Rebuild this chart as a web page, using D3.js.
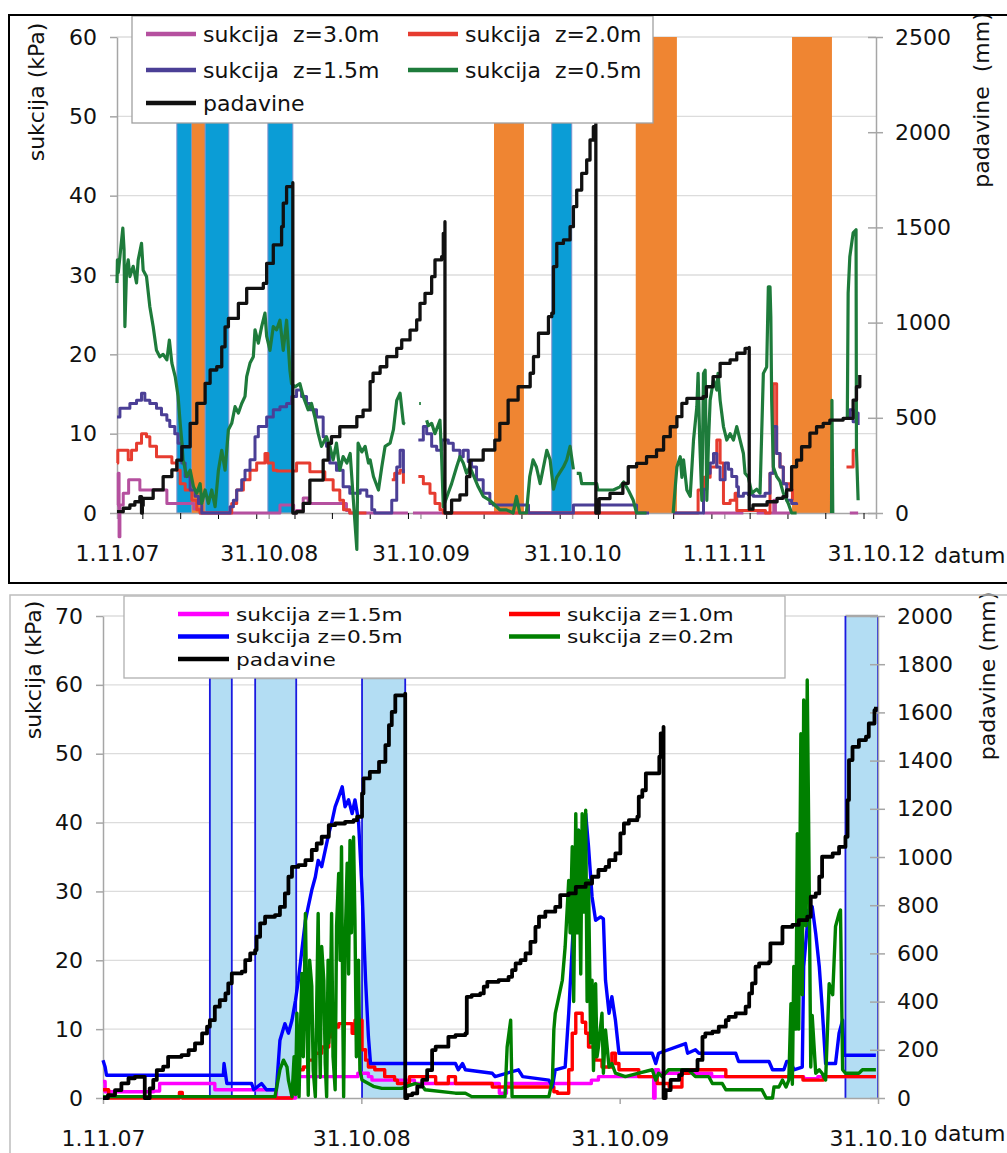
<!DOCTYPE html>
<html>
<head>
<meta charset="utf-8">
<script src="https://cdn.jsdelivr.net/npm/d3@7"></script>
<style>
  body { margin: 0; background: #fff; }
  text { font-family: "DejaVu Sans", sans-serif; fill: #111; }
</style>
</head>
<body>
<svg id="chart" width="1007" height="1153"></svg>
<script>
// all x values are days counted from 1.11.2007
const start = new Date(2007, 10, 1);
const day = d => d3.timeDay.offset(start, d);

// ---------- top chart (2007 - 2012) ----------
const topTickDays = [0, 365, 730, 1095, 1461, 1826];
const topTickLabels = ["1.11.07", "31.10.08", "31.10.09", "31.10.10", "1.11.11", "31.10.12"];
// [from, to, kind]  b = blue column, o = orange column
const topBands = [[144, 180, "b"], [180, 212, "o"], [212, 269, "b"], [363, 423, "b"],
  [907, 979, "o"], [1046, 1094, "b"], [1248, 1347, "o"], [1624, 1720, "o"]];

const topRain = [[0,7],[15,25],[31,42],[43,59],[55,86],[59,86],[59,0],[61,40],[63,77],[87,121],[111,191],[132,226],[144,278],[156,348],[176,471],[192,576],[212,681],[224,751],[240,768],[252,873],[260,978],[268,1022],[292,1101],[312,1180],[352,1206],[360,1311],[376,1408],[396,1504],[400,1627],[408,1714],[423,1735],[423,0],[432,7],[448,51],[464,173],[496,278],[508,366],[516,401],[536,453],[577,506],[592,540],[609,690],[616,734],[633,768],[649,821],[673,865],[685,909],[705,961],[721,1014],[729,1101],[741,1154],[757,1241],[765,1329],[781,1346],[785,1469],[789,1530],[789,0],[805,68],[825,95],[841,191],[849,278],[881,331],[909,383],[921,471],[941,593],[965,663],[994,734],[1002,821],[1014,944],[1038,1031],[1046,1049],[1050,1294],[1058,1416],[1074,1434],[1090,1504],[1098,1609],[1106,1696],[1118,1784],[1130,1854],[1138,1959],[1146,2029],[1152,2050],[1152,0],[1160,76],[1186,103],[1217,156],[1230,243],[1250,261],[1274,296],[1298,331],[1315,401],[1331,453],[1347,506],[1359,576],[1371,602],[1410,611],[1418,663],[1434,716],[1451,786],[1475,804],[1491,839],[1511,865],[1521,870],[1521,20],[1530,42],[1564,59],[1588,77],[1602,86],[1611,121],[1623,243],[1635,278],[1647,348],[1667,419],[1683,453],[1699,471],[1715,488],[1747,497],[1759,497],[1771,593],[1779,663],[1787,725]];

const topZ30 = [[0,1],[3,5],[5,-3],[7,1],[15,2.5],[28,4.2],[47,4.2],[55,2.9],[115,2.9],[120,1.2],[165,1.2],[185,0.5],[200,0],[385,0],[392,1],[420,1],[425,0],[432,0.3],[448,1.9],[460,1.2],[540,1.2],[552,0.3],[560,0],[700,0],[705,null],[712,0],[1250,0],[1255,null],[1410,0],[1507,0],[1510,null],[1539,0],[1580,1.6],[1584,0],[1619,0],[1622,null],[1763,0],[1783,0]];

const topZ20 = [[0,6.3],[2,7.9],[15,7.9],[27,6.7],[35,7.9],[47,8.8],[59,10],[71,9.6],[79,8.4],[95,7.1],[127,7.1],[132,6.3],[144,5.4],[152,3.7],[164,2.9],[180,1.6],[192,0.4],[200,0],[269,0],[276,1.2],[288,2.9],[304,4.2],[320,5.4],[336,6.3],[356,7.5],[363,6.3],[376,5.4],[385,5.3],[416,5.3],[432,6.3],[448,6.3],[464,5.2],[480,5.2],[500,4.2],[520,2.9],[536,1.6],[545,0.4],[560,0],[600,0],[601,null],[661,4.2],[668,5.0],[681,5.4],[689,3.7],[693,null],[725,4.6],[737,3.7],[753,2.5],[765,1.2],[777,0.4],[785,0],[1250,0],[1251,null],[1338,0],[1390,0],[1398,2.9],[1411,4.5],[1427,5.8],[1443,9.2],[1451,6.3],[1459,1.2],[1475,1.6],[1487,2.5],[1491,0.3],[1560,0],[1571,5],[1579,16.3],[1587,7.5],[1595,5.8],[1603,3.7],[1619,2.9],[1625,1.6],[1630,null],[1755,5.8],[1763,5.8],[1771,7.9],[1779,8.2],[1783,null]];

const topZ15 = [[0,12.1],[7,13.2],[31,13.8],[47,14.2],[59,15.1],[67,14.2],[79,13.8],[95,13.2],[107,12.4],[120,11.7],[127,10.9],[139,10.0],[147,8.8],[156,6.3],[164,4.6],[176,2.9],[188,2.1],[196,1.2],[204,0],[270,0],[272,0.8],[280,1.6],[288,2.9],[300,4.2],[308,5.4],[320,6.7],[332,9.6],[340,10.9],[360,12.1],[376,13.0],[392,13.4],[408,13.8],[420,14.7],[432,15.5],[444,14.7],[456,13.8],[464,13.0],[480,12.1],[496,9.6],[504,8.4],[512,6.3],[528,5.4],[544,3.3],[560,2.5],[585,2.9],[601,2.1],[613,0.4],[620,0],[655,0],[661,1.6],[673,5.8],[681,7.9],[689,5],[693,null],[725,9.2],[737,10.9],[745,10.0],[757,8.4],[769,7.9],[781,9.2],[797,8.8],[809,7.9],[825,7.1],[833,7.9],[845,6.5],[853,5.8],[865,4.2],[881,2.5],[897,1.2],[905,1.0],[985,1.0],[990,0],[1046,0],[1098,1.0],[1245,1.0],[1250,0],[1280,0],[1281,null],[1338,0],[1400,0],[1411,3],[1419,5],[1427,6.3],[1435,7.5],[1443,5.8],[1451,4.2],[1463,6.3],[1471,5.5],[1479,4.6],[1491,3.3],[1495,2.1],[1507,2.5],[1519,2.3],[1531,2.1],[1559,2.5],[1571,5.0],[1579,10.9],[1587,7.5],[1595,5.8],[1603,3.7],[1611,1.6],[1623,1.2],[1635,1.0],[1640,null],[1755,12.1],[1763,13.0],[1771,11.5],[1779,12.6],[1783,11.1]];

const topZ05 = [[0,29.0],[1,31.9],[3,30.3],[7,32.3],[14,35.9],[17,33.2],[19,23.5],[23,30.6],[27,31.9],[31,29.8],[39,31.1],[47,29.0],[51,31.9],[59,34.0],[63,30.6],[71,29.8],[79,26.0],[87,23.5],[95,20.5],[103,19.7],[111,20.0],[120,19.3],[126,21.8],[132,18.9],[140,17.2],[147,14.7],[152,11.3],[156,9.0],[159,6.7],[168,4.6],[176,5.4],[184,3.3],[192,2.5],[200,3.7],[204,1.2],[212,2.9],[220,1.2],[228,2.9],[236,0.8],[244,5.4],[252,7.9],[260,5.4],[268,10.5],[276,11.3],[284,13.4],[292,12.6],[300,13.8],[308,14.7],[312,17.2],[320,18.9],[328,19.7],[332,23.1],[340,21.4],[348,23.5],[356,25.2],[360,22.3],[368,20.5],[376,23.5],[384,23.1],[392,24.3],[400,20.5],[408,24.3],[416,18.0],[420,16.3],[428,15.9],[440,16.3],[448,14.7],[460,13.0],[468,13.8],[476,12.1],[484,10.0],[492,8.4],[504,9.6],[512,8.4],[520,6.7],[528,8.8],[536,5.4],[544,7.1],[553,6.3],[561,7.5],[568,2.1],[577,-4.6],[580,8.8],[589,7.7],[597,8.4],[605,6.3],[609,6.7],[617,4.6],[629,2.9],[637,5.8],[645,8.4],[657,8.8],[665,10.5],[673,14.2],[681,15.1],[689,11.3],[693,11.2],[694,null],[727,13.8],[731,13.8],[732,null],[745,11.7],[749,11.0],[757,11.3],[765,10.0],[777,11.7],[781,7],[785,0.8],[805,3.7],[817,5.8],[825,7.1],[833,6.3],[841,5.0],[849,5.8],[857,4.8],[869,3.3],[881,2.1],[897,1.6],[905,1.2],[921,0.4],[937,0.4],[953,0],[961,2.1],[969,0],[985,0],[993,4.6],[1001,6.7],[1009,5.8],[1018,3.7],[1026,5.8],[1034,7.9],[1042,6.7],[1050,3.0],[1058,4.5],[1074,5.8],[1082,6.7],[1090,8.4],[1098,5.5],[1100,null],[1106,5.0],[1114,5.0],[1118,3.7],[1154,3.7],[1157,2.9],[1194,2.9],[1210,3.3],[1219,3.9],[1230,2.9],[1242,1.6],[1250,0],[1274,0],[1275,null],[1338,0],[1347,5.8],[1355,7.1],[1359,4.5],[1363,6.7],[1371,2.9],[1379,2.1],[1387,9.2],[1395,13.4],[1398,17.6],[1402,9],[1407,1.6],[1411,17.6],[1415,18.0],[1419,1.6],[1423,9],[1427,14.2],[1435,16.8],[1443,15.5],[1446,17.6],[1451,14.2],[1459,10.9],[1467,9.2],[1475,10.0],[1483,9.2],[1491,10.9],[1499,9.2],[1507,7.5],[1511,5.0],[1519,4.5],[1527,2.5],[1539,3.0],[1547,2.5],[1555,17.6],[1563,18.4],[1567,28.5],[1571,28.5],[1573,24.7],[1575,14.2],[1579,5.8],[1587,4.6],[1595,4],[1603,2.5],[1615,1.2],[1623,0],[1635,0],[1636,null],[1719,0],[1720,14.2],[1722,0],[1723,null],[1757,12],[1759,27.7],[1763,32.3],[1771,35.3],[1778,35.7],[1779,7.9],[1783,1.6]];

// ---------- bottom chart (2007 - 2010) ----------
const botTickDays = [0, 365, 730, 1095];
const botTickLabels = ["1.11.07", "31.10.08", "31.10.09", "31.10.10"];
// [from, to, top in kPa]
const botBands = [[151, 182, 61], [215, 273, 61], [366, 427, 61], [1049, 1095, 70]];

const botRain = [[0,0],[7,12],[17,33],[26,61],[36,82],[45,88],[59,88],[59,0],[66,40],[71,75],[76,116],[85,130],[92,171],[111,178],[121,199],[130,227],[140,268],[147,296],[151,323],[158,379],[165,406],[173,434],[177,476],[182,517],[196,524],[201,572],[208,600],[215,614],[217,669],[222,725],[229,752],[243,759],[250,793],[257,849],[262,918],[267,959],[276,966],[286,987],[295,1029],[302,1056],[309,1084],[319,1132],[328,1139],[342,1146],[354,1153],[359,1167],[366,1264],[368,1326],[377,1353],[390,1395],[399,1464],[404,1547],[408,1602],[413,1671],[427,1678],[427,0],[430,12],[437,19],[444,47],[451,75],[458,116],[465,199],[470,213],[484,213],[488,254],[498,261],[512,268],[514,420],[521,427],[533,434],[538,462],[543,482],[559,489],[573,503],[578,531],[583,559],[590,572],[597,600],[604,648],[611,710],[616,752],[625,773],[639,793],[646,842],[658,849],[668,876],[682,890],[691,918],[700,946],[710,959],[715,987],[724,1015],[731,1098],[736,1139],[743,1153],[755,1167],[757,1250],[762,1277],[767,1347],[781,1347],[786,1416],[788,1513],[792,1540],[792,0],[795,33],[802,75],[814,95],[818,116],[837,116],[840,158],[847,254],[851,268],[861,275],[870,296],[880,323],[884,337],[894,351],[908,379],[913,434],[917,476],[922,545],[927,559],[941,565],[943,642],[955,642],[960,710],[974,718],[983,738],[995,752],[1000,835],[1007,849],[1012,918],[1016,1001],[1031,1015],[1040,1042],[1049,1084],[1052,1236],[1054,1402],[1059,1457],[1068,1485],[1078,1499],[1082,1554],[1090,1609],[1092,1623]];

const botZ15 = [[0,2.4],[3,0.9],[72,1.0],[80,2.1],[155,2.1],[158,1.2],[240,1.2],[245,0],[265,0],[272,3.1],[360,3.6],[375,3.1],[380,2.6],[430,2.6],[440,2.1],[540,2.1],[560,0.7],[570,2.1],[690,2.6],[700,3.1],[775,3.1],[778,0],[780,4.1],[785,3.6],[850,3.6],[860,3.1],[980,3.1],[990,2.8],[1010,3.1],[1092,3.1]];

const botZ10 = [[0,1.2],[8,0],[105,0],[108,0.8],[112,0],[265,0],[267,0.7],[276,4.1],[283,4.5],[290,5.5],[300,6.5],[309,7.4],[319,8.9],[323,10.3],[333,10.8],[347,10.8],[352,9.4],[356,11.3],[361,11.3],[366,7.0],[371,5.5],[375,4.5],[384,4.1],[398,3.1],[412,2.6],[416,2.1],[432,2.1],[433,3.1],[465,3.1],[470,2.1],[484,2.1],[488,3.1],[498,2.1],[538,2.1],[550,1.6],[630,1.6],[637,0.9],[642,0.7],[653,0.7],[658,4.1],[663,9.4],[668,12.3],[677,11],[682,9.4],[686,7.4],[696,5.5],[705,4.5],[715,4.5],[719,6.5],[724,5.0],[729,4.1],[743,4.1],[757,3.1],[780,3.1],[783,2.1],[797,2.1],[800,1.6],[818,3.6],[828,4.1],[875,4.1],[880,3.1],[985,3.1],[989,2.6],[1016,2.6],[1018,3.1],[1092,3.1]];

const botZ05 = [[0,5.5],[3,4.5],[5,3.3],[170,3.3],[171,5.0],[175,2.1],[210,2.1],[213,1.2],[224,2.1],[231,1.2],[245,1.2],[250,8.4],[257,10.8],[262,9.4],[267,11.3],[272,14.2],[276,17.1],[281,21.5],[286,25.8],[290,27.8],[295,30.2],[300,32.1],[304,34.5],[309,33.6],[314,36.0],[319,38.4],[323,39.9],[328,42.3],[333,43.7],[338,45.2],[342,42.3],[347,43.3],[352,41.3],[356,43.3],[361,40.3],[366,30.2],[371,17.1],[375,8.9],[378,5.0],[498,5.0],[502,4.1],[508,5.0],[512,4.1],[550,3.6],[554,3.1],[587,4.1],[593,3.1],[630,2.6],[635,1.6],[639,4.1],[653,4.5],[658,12.3],[663,22.0],[668,31.6],[672,38.9],[677,34.1],[682,41.3],[686,36.5],[691,29.2],[696,25.8],[703,26.3],[707,26],[710,17.1],[715,12.3],[719,14.7],[724,11.3],[729,6.5],[776,6.5],[781,5.0],[785,6.5],[823,7.9],[826,6.5],[837,7.0],[842,6.5],[894,6.5],[898,5.3],[941,5.3],[946,4.1],[962,4.1],[966,5.3],[972,5.3],[976,4.1],[988,4.5],[990,19.1],[997,27.3],[1002,27.8],[1007,23.9],[1012,19.1],[1016,13.3],[1021,5.0],[1035,5.0],[1040,9.4],[1045,11.3],[1047,6.2],[1092,6.2]];

const botZ02 = [[0,0.2],[243,0.2],[250,4.1],[255,5.5],[260,4.5],[262,2.6],[267,0.2],[270,6],[272,0.5],[274,12.3],[276,2],[277,0.2],[279,10],[281,18.1],[283,6],[286,26.8],[288,12],[290,0.4],[292,20],[295,16.2],[297,4],[300,0.2],[302,14],[304,26.8],[306,8],[307,3.0],[309,22],[312,17.1],[314,5],[316,0.2],[318,20],[319,8.0],[321,12],[323,26.8],[325,6],[328,1.2],[330,25],[333,32.6],[335,20],[337,36.5],[339,10],[340,0.2],[342,22],[345,34.1],[347,18],[349,37.4],[351,24],[354,37.9],[356,25.8],[358,6],[359,12],[361,20],[363,4],[366,2.6],[375,2.1],[382,1.7],[394,1.4],[422,1.4],[432,1.8],[441,2.1],[451,1.8],[455,1.2],[498,0.7],[512,0.7],[521,0.2],[568,0.2],[571,7.4],[576,11.3],[578,0.2],[630,0.2],[635,2.6],[637,9.9],[639,12.3],[644,14.7],[649,17.1],[653,22.0],[658,31.6],[660,24],[663,36.5],[665,14],[668,41.3],[670,24],[672,38.9],[675,18],[677,41.3],[679,27],[682,41.8],[684,14],[686,31.6],[689,8],[691,17.1],[693,4],[696,16.6],[698,6],[700,7.4],[705,12.3],[707,3.6],[710,9.9],[715,4.5],[719,5.0],[724,3.6],[738,3.1],[757,3.6],[776,4.1],[781,2.6],[785,3.6],[790,3.1],[799,4.1],[827,4.1],[837,3.1],[856,3.1],[861,2.1],[875,2.1],[880,1.2],[931,1.2],[937,0],[946,0],[948,1.6],[955,1.6],[960,2.6],[965,1.6],[969,2.6],[972,13.7],[974,2],[976,19.1],[979,10],[981,38.4],[983,10],[986,52.9],[988,15],[990,57.8],[993,25],[995,60.7],[997,40],[1000,4.5],[1002,12],[1007,3.6],[1012,4.1],[1016,3.6],[1021,2.6],[1026,16.6],[1031,15],[1035,24.9],[1040,26.8],[1042,27.3],[1045,4.1],[1049,3.6],[1068,3.6],[1073,4.1],[1092,4.1]];

const svg = d3.select("#chart");
const axisGrey = "#a6a6a6";

function drawPanel(p) {
  const x = d3.scaleTime().domain([start, day(p.endDay)]).range([p.left, p.right]);
  const yL = d3.scaleLinear().domain([0, p.kpaMax]).range([p.base, p.top]);
  const yR = d3.scaleLinear().domain([0, p.mmMax]).range([p.base, p.top]);
  const g = svg.append("g");

  // horizontal grid
  g.selectAll("line.grid")
    .data(d3.range(p.kpaStep, p.kpaMax + 1, p.kpaStep))
    .join("line")
    .attr("x1", p.left).attr("x2", p.right)
    .attr("y1", d => yL(d)).attr("y2", d => yL(d))
    .attr("stroke", "#dcdcdc").attr("stroke-width", 1.3);

  // columns behind the lines
  p.drawBands(g, x, yL);

  // left axis
  const ax = g.append("g").attr("transform", `translate(${p.left},0)`)
    .call(d3.axisLeft(yL).tickValues(d3.range(0, p.kpaMax + 1, p.kpaStep))
      .tickSize(7).tickSizeOuter(0).tickPadding(13));
  // right axis
  const ar = g.append("g").attr("transform", `translate(${p.right},0)`)
    .call(d3.axisRight(yR).tickValues(d3.range(0, p.mmMax + 1, p.mmStep))
      .tickFormat(d3.format("d"))
      .tickSize(7).tickSizeOuter(0).tickPadding(12));
  ar.selectAll(".tick line").attr("x1", -8);
  // bottom axis with labels
  const ab = g.append("g").attr("transform", `translate(0,${p.base})`)
    .call(d3.axisBottom(x).tickValues(p.tickDays.map(day))
      .tickFormat((d, i) => p.tickLabels[i]).tickSize(6).tickSizeOuter(0).tickPadding(26));
  if (p.minorTicks) {
    g.append("g").attr("transform", `translate(0,${p.base})`)
      .call(d3.axisBottom(x).ticks(d3.timeMonth.every(3)).tickFormat("").tickSize(6).tickSizeOuter(0))
      .call(a => a.select(".domain").remove());
  }
  [ax, ar, ab].forEach(a => {
    a.selectAll(".domain").attr("stroke", axisGrey).attr("stroke-width", 1.5);
    a.selectAll(".tick line").attr("stroke", axisGrey).attr("stroke-width", 1.5);
    a.selectAll("text").attr("font-size", 22).attr("fill", "#111")
      .style("font-family", "'DejaVu Sans', sans-serif");
  });

  // series lines
  p.series.forEach(s => {
    const yS = s.right ? yR : yL;
    const line = d3.line()
      .defined(d => d[1] !== null)
      .x(d => x(day(d[0])))
      .y(d => yS(d[1]))
      .curve(s.step ? d3.curveStepAfter : d3.curveLinear);
    g.append("path").datum(s.data)
      .attr("d", line)
      .attr("fill", "none")
      .attr("stroke", s.color)
      .attr("stroke-width", s.width)
      .attr("stroke-linejoin", "round");
  });

  // axis titles
  g.append("text").attr("transform", `translate(${p.titleL[0]},${p.titleL[1]}) rotate(-90)`)
    .attr("text-anchor", "middle").attr("dy", "0.35em").attr("font-size", 22)
    .style("white-space", "pre").text("sukcija (kPa)");
  g.append("text").attr("transform", `translate(${p.titleR[0]},${p.titleR[1]}) rotate(-90)`)
    .attr("text-anchor", "middle").attr("dy", "0.35em").attr("font-size", 22)
    .style("white-space", "pre").text(p.titleRText);
  g.append("text").attr("x", 934).attr("y", p.base + p.datumDy)
    .attr("font-size", 22).text("datum");

  // legend
  const L = p.legend;
  g.append("rect").attr("x", L.x).attr("y", L.y).attr("width", L.w).attr("height", L.h)
    .attr("fill", "#fff").attr("stroke", L.stroke).attr("stroke-width", 1.3);
  const items = g.selectAll("g.leg").data(L.items).join("g")
    .attr("transform", d => `translate(${L.cols[d.col]},${L.rows[d.row]})`);
  items.append("line").attr("x1", 0).attr("x2", L.lineLen)
    .attr("stroke", d => d.color).attr("stroke-width", 4.5);
  const t = items.append("text").attr("x", L.gap).attr("dy", "0.36em").attr("font-size", L.fontSize)
    .style("white-space", "pre").text(d => d.label);
  if (L.stretch) {
    t.attr("textLength", function () { return this.getComputedTextLength() * L.stretch; })
      .attr("lengthAdjust", "spacingAndGlyphs");
  }
}

const topColors = { z30: "#b5509f", z20: "#e63c30", z15: "#4b3f96", z05: "#1e7b3b", rain: "#111" };

drawPanel({
  left: 117, right: 876, top: 37, base: 513,
  endDay: 1826, kpaMax: 60, kpaStep: 10, mmMax: 2500, mmStep: 500,
  tickDays: topTickDays, tickLabels: topTickLabels, minorTicks: true,
  drawBands: (g, x, yL) => {
    g.selectAll("rect.band").data(topBands).join("rect")
      .attr("x", d => x(day(d[0]))).attr("width", d => x(day(d[1])) - x(day(d[0])))
      .attr("y", yL(60)).attr("height", yL(0) - yL(60))
      .attr("fill", d => d[2] === "b" ? "#0b9dd6" : "#ef8532")
      .attr("stroke", d => d[2] === "b" ? "#8190cc" : "none").attr("stroke-width", 1);
  },
  series: [
    { data: topZ30, color: topColors.z30, width: 3, step: true },
    { data: topZ20, color: topColors.z20, width: 3, step: true },
    { data: topZ15, color: topColors.z15, width: 3, step: true },
    { data: topZ05, color: topColors.z05, width: 3.2, step: false },
    { data: topRain, color: topColors.rain, width: 3.3, step: true, right: true }
  ],
  titleL: [36, 92], titleR: [981, 100], titleRText: "padavine  (mm)", datumDy: 50,
  legend: {
    x: 132, y: 16, w: 521, h: 107, stroke: "#a0a0a0", lineLen: 50, gap: 57, fontSize: 22,
    cols: [146, 408], rows: [34, 70, 103],
    items: [
      { label: "sukcija  z=3.0m", color: topColors.z30, col: 0, row: 0 },
      { label: "sukcija  z=2.0m", color: topColors.z20, col: 1, row: 0 },
      { label: "sukcija  z=1.5m", color: topColors.z15, col: 0, row: 1 },
      { label: "sukcija  z=0.5m", color: topColors.z05, col: 1, row: 1 },
      { label: "padavine", color: topColors.rain, col: 0, row: 2 }
    ]
  }
});

const botColors = { z15: "#ff00ff", z10: "#ff0000", z05: "#0000ff", z02: "#008000", rain: "#000" };

drawPanel({
  left: 103, right: 878, top: 616, base: 1098,
  endDay: 1095, kpaMax: 70, kpaStep: 10, mmMax: 2000, mmStep: 200,
  tickDays: botTickDays, tickLabels: botTickLabels, minorTicks: false,
  drawBands: (g, x, yL) => {
    const b = g.selectAll("g.band").data(botBands).join("g");
    b.append("rect")
      .attr("x", d => x(day(d[0]))).attr("width", d => x(day(d[1])) - x(day(d[0])))
      .attr("y", d => yL(d[2])).attr("height", d => yL(0) - yL(d[2]))
      .attr("fill", "#b3ddf3");
    b.append("line").attr("x1", d => x(day(d[0]))).attr("x2", d => x(day(d[1])))
      .attr("y1", d => yL(d[2])).attr("y2", d => yL(d[2]))
      .attr("stroke", "#a8a8a8").attr("stroke-width", 2.5);
    [0, 1].forEach(k => {
      b.append("line").attr("x1", d => x(day(d[k]))).attr("x2", d => x(day(d[k])))
        .attr("y1", d => yL(d[2])).attr("y2", yL(0))
        .attr("stroke", "#1a1ae0").attr("stroke-width", 1.8);
    });
  },
  series: [
    { data: botZ15, color: botColors.z15, width: 3.4, step: true },
    { data: botZ10, color: botColors.z10, width: 3.4, step: true },
    { data: botZ05, color: botColors.z05, width: 3.4, step: false },
    { data: botZ02, color: botColors.z02, width: 3.4, step: false },
    { data: botRain, color: botColors.rain, width: 3.8, step: true, right: true }
  ],
  titleL: [33, 670], titleR: [987, 676], titleRText: "padavine (mm)", datumDy: 43,
  legend: {
    x: 124, y: 596, w: 661, h: 82, stroke: "#b0b0b0", lineLen: 51, gap: 58,
    fontSize: 18.5, stretch: 1.17,
    cols: [178, 509], rows: [614, 636.5, 659],
    items: [
      { label: "sukcija z=1.5m", color: botColors.z15, col: 0, row: 0 },
      { label: "sukcija z=1.0m", color: botColors.z10, col: 1, row: 0 },
      { label: "sukcija z=0.5m", color: botColors.z05, col: 0, row: 1 },
      { label: "sukcija z=0.2m", color: botColors.z02, col: 1, row: 1 },
      { label: "padavine", color: botColors.rain, col: 0, row: 2 }
    ]
  }
});

// frames round the two pictures
svg.append("rect").attr("x", 9).attr("y", 15).attr("width", 1010).attr("height", 568)
  .attr("fill", "none").attr("stroke", "#000").attr("stroke-width", 2);
svg.append("rect").attr("x", 10).attr("y", 595).attr("width", 1010).attr("height", 580)
  .attr("fill", "none").attr("stroke", "#bdbdbd").attr("stroke-width", 1.5);
</script>
</body>
</html>
